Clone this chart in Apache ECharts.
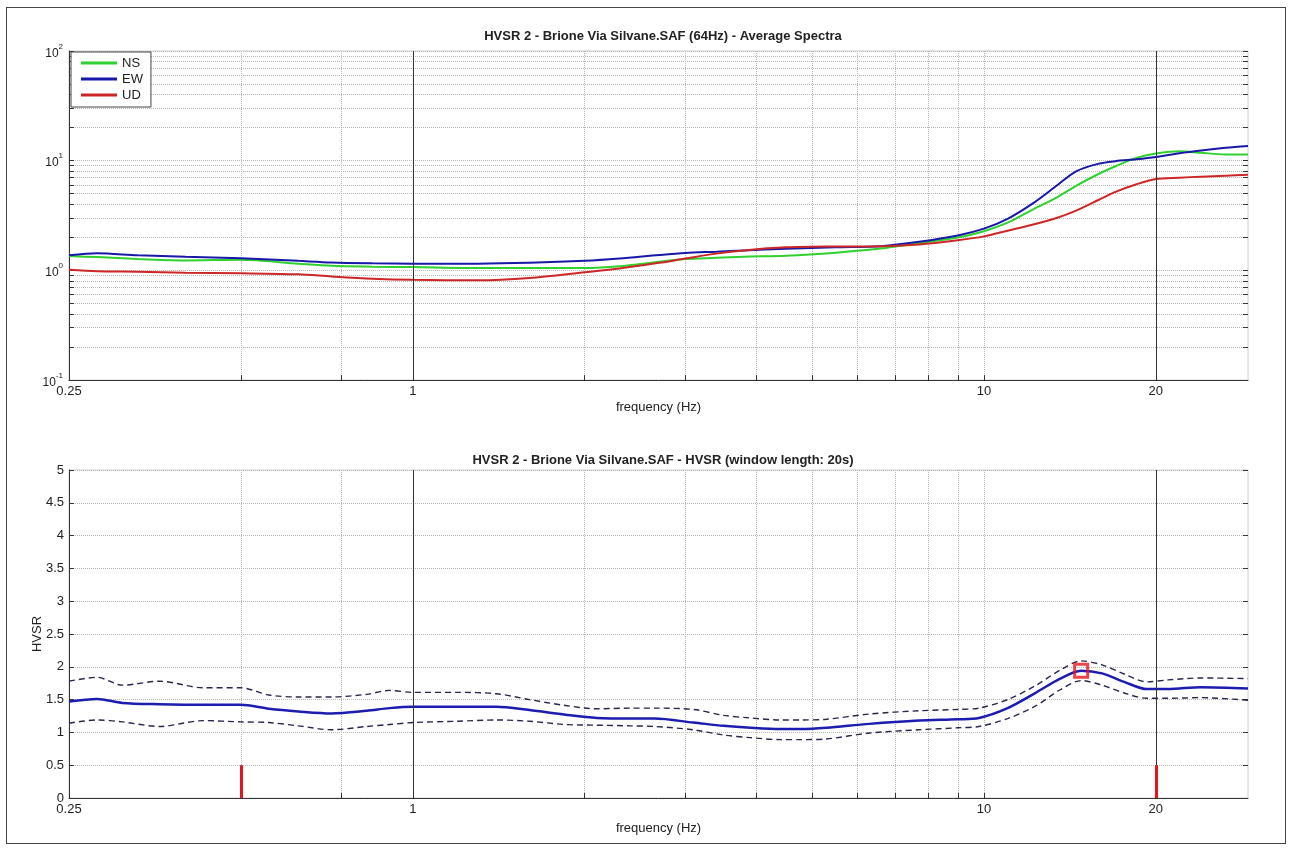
<!DOCTYPE html>
<html>
<head>
<meta charset="utf-8">
<title>HVSR 2 - Brione Via Silvane</title>
<script src="https://cdn.jsdelivr.net/npm/echarts@6.0.0/dist/echarts.min.js"></script>
<style>
  html, body { margin: 0; padding: 0; background: #fff; }
  #chart { width: 1291px; height: 848px; }
  .frame { position: absolute; left: 6px; top: 7px; width: 1278px; height: 835px; border: 1px solid #444; pointer-events: none; }
</style>
</head>
<body>
<div id="chart"></div>
<div class="frame"></div>
<script>
// --- average spectra (top plot) ---
const specFreq = [0.25, 0.28, 0.33, 0.4, 0.5, 0.63, 0.72, 0.85, 1, 1.3, 1.6, 2, 2.3, 2.7, 3, 3.4, 3.8, 4.5, 5.5, 6.6, 7.7, 9, 10, 11, 12.2, 13.4, 14.5, 15.9, 17, 18.5, 20, 22, 24, 26.5, 29];
const specNS = [1.35, 1.32, 1.27, 1.23, 1.25, 1.15, 1.1, 1.08, 1.07, 1.05, 1.05, 1.05, 1.09, 1.2, 1.27, 1.3, 1.33, 1.36, 1.45, 1.58, 1.77, 1.99, 2.27, 2.72, 3.6, 4.6, 5.9, 7.6, 8.9, 10.6, 11.6, 12.2, 11.8, 11.4, 11.4];
const specEW = [1.37, 1.43, 1.37, 1.33, 1.29, 1.22, 1.18, 1.16, 1.15, 1.15, 1.17, 1.22, 1.28, 1.38, 1.44, 1.48, 1.52, 1.57, 1.62, 1.66, 1.82, 2.08, 2.4, 2.95, 4.1, 5.9, 8.0, 9.4, 9.9, 10.3, 10.8, 11.7, 12.4, 13.1, 13.6];
const specUD = [1.01, 0.98, 0.97, 0.95, 0.94, 0.92, 0.88, 0.84, 0.82, 0.81, 0.85, 0.96, 1.04, 1.17, 1.28, 1.42, 1.52, 1.62, 1.65, 1.66, 1.72, 1.88, 2.04, 2.3, 2.62, 3.0, 3.5, 4.4, 5.2, 6.1, 6.8, 7.0, 7.15, 7.3, 7.45];

// --- H/V ratio (bottom plot) ---
const hvFreq = [0.25, 0.28, 0.31, 0.36, 0.43, 0.5, 0.56, 0.63, 0.72, 0.83, 0.91, 1, 1.2, 1.4, 1.6, 1.85, 2.1, 2.4, 2.65, 3.1, 3.5, 3.9, 4.4, 4.8, 5.3, 6.3, 7.7, 9, 9.8, 11, 12.3, 13.6, 14.8, 16.1, 17.6, 19.3, 21, 24, 29];
const hvMean = [1.47, 1.51, 1.45, 1.43, 1.42, 1.42, 1.36, 1.32, 1.29, 1.33, 1.37, 1.39, 1.39, 1.39, 1.34, 1.27, 1.22, 1.21, 1.21, 1.15, 1.1, 1.07, 1.05, 1.05, 1.07, 1.13, 1.18, 1.2, 1.22, 1.37, 1.6, 1.82, 1.94, 1.9, 1.77, 1.66, 1.66, 1.69, 1.67];
const hvUpper = [1.78, 1.84, 1.72, 1.78, 1.68, 1.68, 1.57, 1.54, 1.54, 1.58, 1.64, 1.61, 1.61, 1.59, 1.5, 1.41, 1.36, 1.37, 1.37, 1.35, 1.26, 1.22, 1.19, 1.19, 1.2, 1.28, 1.33, 1.35, 1.37, 1.5, 1.71, 1.95, 2.09, 2.03, 1.89, 1.77, 1.8, 1.83, 1.82];
const hvLower = [1.14, 1.19, 1.16, 1.09, 1.18, 1.16, 1.15, 1.1, 1.04, 1.09, 1.12, 1.15, 1.17, 1.19, 1.17, 1.12, 1.11, 1.1, 1.09, 1.04, 0.96, 0.92, 0.89, 0.89, 0.9, 0.99, 1.04, 1.07, 1.09, 1.21, 1.4, 1.65, 1.79, 1.72, 1.6, 1.52, 1.52, 1.53, 1.49];
const hvPeak = [14.8, 1.94];
const windowFreqs = [0.5, 20];
const windowMarkHeight = 0.5;

// --- axes ---
const freqMin = 0.25;
const freqMax = 29;
const freqLabels = [0.25, 1, 10, 20];
const freqGrid = [0.5, 0.75, 1, 2, 3, 4, 5, 6, 7, 8, 9, 10, 20];
const darkFreqs = [1, 20];
const specLabels = [0.1, 1, 10, 100];
const specGrid = [0.1, 0.2, 0.3, 0.4, 0.5, 0.6, 0.7, 0.8, 0.9, 1, 2, 3, 4, 5, 6, 7, 8, 9, 10, 20, 30, 40, 50, 60, 70, 80, 90, 100];

const FONT = "'Liberation Sans', Arial, sans-serif";
const gridLine = { show: true, lineStyle: { type: "dotted", color: "#b8b8b8", width: 1 } };
const pairs = (xs, ys) => xs.map((x, i) => [x, ys[i]]);

function freqAxis(gridIndex, nameGap) {
  return {
    gridIndex,
    type: "log",
    logBase: 10,
    min: freqMin,
    max: freqMax,
    name: "frequency (Hz)",
    nameLocation: "middle",
    nameGap,
    nameTextStyle: { color: "#222", fontSize: 13, fontFamily: FONT },
    axisLine: { lineStyle: { color: "#333", width: 1 } },
    axisTick: { inside: true, length: 5, customValues: freqGrid, lineStyle: { color: "#333" } },
    axisLabel: {
      customValues: freqLabels,
      formatter: (v) => String(+(+v).toPrecision(3)),
      color: "#222",
      fontSize: 13,
      fontFamily: FONT,
      margin: 5,
    },
    splitLine: gridLine,
  };
}

const options = {
  animation: false,
  textStyle: { fontFamily: FONT },
  title: [
    {
      text: "HVSR 2 - Brione Via Silvane.SAF (64Hz) - Average Spectra",
      left: 658,
      top: 25,
      textAlign: "center",
      textStyle: { fontSize: 13, fontWeight: "bold", color: "#222", fontFamily: FONT },
    },
    {
      text: "HVSR 2 - Brione Via Silvane.SAF - HVSR (window length: 20s)",
      left: 658,
      top: 449,
      textAlign: "center",
      textStyle: { fontSize: 13, fontWeight: "bold", color: "#222", fontFamily: FONT },
    },
  ],
  legend: {
    data: ["NS", "EW", "UD"],
    orient: "vertical",
    left: 71,
    top: 52,
    itemWidth: 36,
    itemHeight: 3,
    itemGap: 2,
    icon: "rect",
    padding: [4, 8, 5, 10],
    borderColor: "#444",
    borderWidth: 1,
    borderRadius: 0,
    backgroundColor: "#fff",
    textStyle: { fontSize: 13, lineHeight: 14, color: "#222", fontFamily: FONT },
  },
  grid: [
    { left: 69, top: 51, width: 1179, height: 329, show: true, borderColor: "#d0d0d0", borderWidth: 1, outerBoundsMode: "none" },
    { left: 69, top: 470, width: 1179, height: 328, show: true, borderColor: "#d0d0d0", borderWidth: 1, outerBoundsMode: "none" },
  ],
  xAxis: [freqAxis(0, 21), freqAxis(1, 24)],
  yAxis: [
    {
      gridIndex: 0,
      type: "log",
      logBase: 10,
      min: 0.1,
      max: 100,
      axisLine: { show: true, lineStyle: { color: "#333" } },
      axisTick: { inside: true, length: 5, customValues: specGrid, lineStyle: { color: "#333" } },
      axisLabel: {
        customValues: specLabels,
        formatter: (v) => "{b|10}{s|" + Math.round(Math.log10(v)) + "}",
        margin: 6,
        rich: {
          b: { fontSize: 12, color: "#222", fontFamily: FONT, lineHeight: 17, verticalAlign: "bottom" },
          s: { fontSize: 8, color: "#222", fontFamily: FONT, lineHeight: 17, verticalAlign: "top" },
        },
      },
      splitLine: gridLine,
    },
    {
      gridIndex: 0,
      type: "log",
      logBase: 10,
      min: 0.1,
      max: 100,
      position: "right",
      axisLine: { show: false },
      axisTick: { inside: true, length: 5, customValues: specGrid, lineStyle: { color: "#333" } },
      axisLabel: { show: false },
      splitLine: { show: false },
    },
    {
      gridIndex: 1,
      type: "value",
      min: 0,
      max: 5,
      interval: 0.5,
      name: "HVSR",
      nameLocation: "middle",
      nameGap: 25,
      nameMoveOverlap: false,
      nameTextStyle: { color: "#222", fontSize: 13, fontFamily: FONT },
      axisLine: { show: true, lineStyle: { color: "#333" } },
      axisTick: { inside: true, length: 5, lineStyle: { color: "#333" } },
      axisLabel: { color: "#222", fontSize: 13, fontFamily: FONT, margin: 5 },
      splitLine: gridLine,
    },
    {
      gridIndex: 1,
      type: "value",
      min: 0,
      max: 5,
      interval: 0.5,
      position: "right",
      axisLine: { show: false },
      axisTick: { inside: true, length: 5, lineStyle: { color: "#333" } },
      axisLabel: { show: false },
      splitLine: { show: false },
    },
  ],
  series: [
    {
      name: "NS",
      type: "line",
      xAxisIndex: 0,
      yAxisIndex: 0,
      showSymbol: false,
      smooth: 0.3,
      lineStyle: { color: "#2fd02f", width: 2 },
      itemStyle: { color: "#2fd02f" },
      data: pairs(specFreq, specNS),
      markLine: {
        silent: true,
        symbol: ["none", "none"],
        label: { show: false },
        lineStyle: { color: "#333", width: 1, type: "solid" },
        data: darkFreqs.map((f) => ({ xAxis: f })),
      },
    },
    {
      name: "EW",
      type: "line",
      xAxisIndex: 0,
      yAxisIndex: 0,
      showSymbol: false,
      smooth: 0.3,
      lineStyle: { color: "#1818a8", width: 2 },
      itemStyle: { color: "#1818a8" },
      data: pairs(specFreq, specEW),
    },
    {
      name: "UD",
      type: "line",
      xAxisIndex: 0,
      yAxisIndex: 0,
      showSymbol: false,
      smooth: 0.3,
      lineStyle: { color: "#cc2626", width: 2 },
      itemStyle: { color: "#cc2626" },
      data: pairs(specFreq, specUD),
    },
    {
      name: "HVSR + std",
      type: "line",
      xAxisIndex: 1,
      yAxisIndex: 2,
      showSymbol: false,
      smooth: 0.3,
      lineStyle: { color: "#26264e", width: 1.4, type: [6, 4] },
      data: pairs(hvFreq, hvUpper),
      markLine: {
        silent: true,
        symbol: ["none", "none"],
        label: { show: false },
        lineStyle: { color: "#333", width: 1, type: "solid" },
        data: darkFreqs.map((f) => ({ xAxis: f })),
      },
    },
    {
      name: "HVSR - std",
      type: "line",
      xAxisIndex: 1,
      yAxisIndex: 2,
      showSymbol: false,
      smooth: 0.3,
      lineStyle: { color: "#26264e", width: 1.4, type: [6, 4] },
      data: pairs(hvFreq, hvLower),
    },
    {
      name: "HVSR",
      type: "line",
      xAxisIndex: 1,
      yAxisIndex: 2,
      showSymbol: false,
      smooth: 0.3,
      z: 3,
      lineStyle: { color: "#1c1cb0", width: 2.5 },
      data: pairs(hvFreq, hvMean),
      markLine: {
        silent: true,
        symbol: ["none", "none"],
        label: { show: false },
        lineStyle: { color: "#e8141b", width: 3, type: "solid" },
        data: windowFreqs.map((f) => [{ coord: [f, 0] }, { coord: [f, windowMarkHeight] }]),
      },
    },
    {
      name: "peak",
      type: "scatter",
      xAxisIndex: 1,
      yAxisIndex: 2,
      symbol: "rect",
      symbolSize: 13,
      z: 5,
      itemStyle: { color: "rgba(0,0,0,0)", borderColor: "#e8141b", borderWidth: 3 },
      data: [hvPeak],
    },
  ],
};

const chart = echarts.init(document.getElementById("chart"));
chart.setOption(options);
window.addEventListener("resize", () => {
  chart.resize();
});
</script>
</body>
</html>
